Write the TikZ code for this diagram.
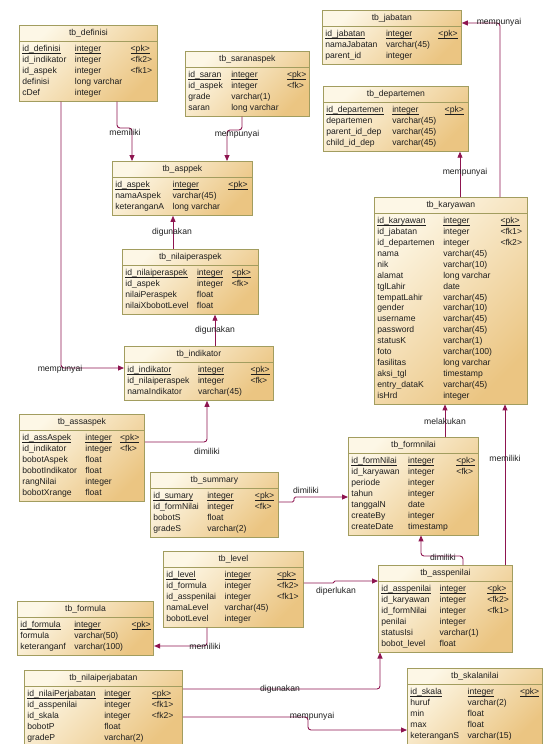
\documentclass[tikz,border=0pt]{standalone}
\usepackage{fontspec}
\setmainfont{Liberation Sans}
\usepackage{xcolor}
\usepackage{tikz}
\usetikzlibrary{arrows.meta,shapes.multipart}

\definecolor{tbLight}{HTML}{FDF7E6}
\definecolor{tbDark}{HTML}{EBC582}
\definecolor{tbBorder}{HTML}{A29D5F}
\definecolor{relLine}{HTML}{8E1550}
\definecolor{tbText}{HTML}{1E1E1E}

\newcommand{\tbfont}{\fontsize{8.6}{10.9}\selectfont}
\newcommand{\pkul}[1]{\leavevmode\setbox0\hbox{#1}\rlap{\rule[-1.4pt]{\wd0}{0.5pt}}\box0}
\newcommand{\pkrow}[3]{\pkul{#1} & \pkul{#2} & \pkul{#3}\\}
\newenvironment{tbrows}{\begin{tabular}{@{}l@{\hspace{8.5pt}}l@{\hspace{8.5pt}}l@{}}}{\end{tabular}}

\begin{document}
\begin{tikzpicture}[x=1pt, y=-1pt,
  tbl/.style={rectangle split, rectangle split parts=2, rectangle split part align={center,left},
    draw=tbBorder, line width=0.8pt, top color=tbLight, bottom color=tbDark, shading angle=45,
    anchor=north west, inner xsep=3pt, inner ysep=2.2pt, font=\tbfont, text=tbText},
  rel/.style={draw=relLine, line width=0.9pt, rounded corners=3pt, -{Triangle[length=6pt,width=5pt]}},
  lbl/.style={font=\tbfont, text=tbText, inner sep=0pt}]

  \useasboundingbox (0,0) rectangle (544,744);

  % tables
  \node [tbl, minimum width=138pt] (def) at (19,25) {\strut tb\_definisi
    \nodepart{two}\begin{tbrows}
      \pkrow{id\_definisi}{integer}{<pk>}
      id\_indikator & integer & <fk2>\\
      id\_aspek & integer & <fk1>\\
      definisi & long varchar & \\
      cDef & integer &
    \end{tbrows}};
  \node [tbl, minimum width=120pt] (sar) at (185,51) {\strut tb\_saranaspek
    \nodepart{two}\begin{tbrows}
      \pkrow{id\_saran}{integer}{<pk>}
      id\_aspek & integer & <fk>\\
      grade & varchar(1) & \\
      saran & long varchar &
    \end{tbrows}};
  \node [tbl, minimum width=140pt] (asp) at (112,161) {\strut tb\_asppek
    \nodepart{two}\begin{tbrows}
      \pkrow{id\_aspek}{integer}{<pk>}
      namaAspek & varchar(45) & \\
      keteranganA & long varchar &
    \end{tbrows}};
  \node [tbl, minimum width=139pt] (jab) at (322,10) {\strut tb\_jabatan
    \nodepart{two}\begin{tbrows}
      \pkrow{id\_jabatan}{integer}{<pk>}
      namaJabatan & varchar(45) & \\
      parent\_id & integer &
    \end{tbrows}};
  \node [tbl, minimum width=145pt] (dep) at (323,86) {\strut tb\_departemen
    \nodepart{two}\begin{tbrows}
      \pkrow{id\_departemen}{integer}{<pk>}
      departemen & varchar(45) & \\
      parent\_id\_dep & varchar(45) & \\
      child\_id\_dep & varchar(45) &
    \end{tbrows}};
  \node [tbl, minimum width=153pt] (kar) at (374,197) {\strut tb\_karyawan
    \nodepart{two}\begin{tbrows}
      \pkrow{id\_karyawan}{integer}{<pk>}
      id\_jabatan & integer & <fk1>\\
      id\_departemen & integer & <fk2>\\
      nama & varchar(45) & \\
      nik & varchar(10) & \\
      alamat & long varchar & \\
      tglLahir & date & \\
      tempatLahir & varchar(45) & \\
      gender & varchar(10) & \\
      username & varchar(45) & \\
      password & varchar(45) & \\
      statusK & varchar(1) & \\
      foto & varchar(100) & \\
      fasilitas & long varchar & \\
      aksi\_tgl & timestamp & \\
      entry\_dataK & varchar(45) & \\
      isHrd & integer &
    \end{tbrows}};
  \node [tbl, minimum width=136pt] (nps) at (122,249) {\strut tb\_nilaiperaspek
    \nodepart{two}\begin{tbrows}
      \pkrow{id\_nilaiperaspek}{integer}{<pk>}
      id\_aspek & integer & <fk>\\
      nilaiPeraspek & float & \\
      nilaiXbobotLevel & float &
    \end{tbrows}};
  \node [tbl, minimum width=149pt] (ind) at (124,346) {\strut tb\_indikator
    \nodepart{two}\begin{tbrows}
      \pkrow{id\_indikator}{integer}{<pk>}
      id\_nilaiperaspek & integer & <fk>\\
      namaIndikator & varchar(45) &
    \end{tbrows}};
  \node [tbl, minimum width=125pt] (ass) at (19,414) {\strut tb\_assaspek
    \nodepart{two}\begin{tbrows}
      \pkrow{id\_assAspek}{integer}{<pk>}
      id\_indikator & integer & <fk>\\
      bobotAspek & float & \\
      bobotIndikator & float & \\
      rangNilai & integer & \\
      bobotXrange & float &
    \end{tbrows}};
  \node [tbl, minimum width=128pt] (sum) at (150,472) {\strut tb\_summary
    \nodepart{two}\begin{tbrows}
      \pkrow{id\_sumary}{integer}{<pk>}
      id\_formNilai & integer & <fk>\\
      bobotS & float & \\
      gradeS & varchar(2) &
    \end{tbrows}};
  \node [tbl, minimum width=130pt] (frm) at (348,437) {\strut tb\_formnilai
    \nodepart{two}\begin{tbrows}
      \pkrow{id\_formNilai}{integer}{<pk>}
      id\_karyawan & integer & <fk>\\
      periode & integer & \\
      tahun & integer & \\
      tanggalN & date & \\
      createBy & integer & \\
      createDate & timestamp &
    \end{tbrows}};
  \node [tbl, minimum width=140pt] (lvl) at (163,551) {\strut tb\_level
    \nodepart{two}\begin{tbrows}
      \pkrow{id\_level}{integer}{<pk>}
      id\_formula & integer & <fk2>\\
      id\_asspenilai & integer & <fk1>\\
      namaLevel & varchar(45) & \\
      bobotLevel & integer &
    \end{tbrows}};
  \node [tbl, minimum width=135pt] (frml) at (17,601) {\strut tb\_formula
    \nodepart{two}\begin{tbrows}
      \pkrow{id\_formula}{integer}{<pk>}
      formula & varchar(50) & \\
      keteranganf & varchar(100) &
    \end{tbrows}};
  \node [tbl, minimum width=134pt] (asn) at (378,565) {\strut tb\_asspenilai
    \nodepart{two}\begin{tbrows}
      \pkrow{id\_asspenilai}{integer}{<pk>}
      id\_karyawan & integer & <fk2>\\
      id\_formNilai & integer & <fk1>\\
      penilai & integer & \\
      statusIsi & varchar(1) & \\
      bobot\_level & float &
    \end{tbrows}};
  \node [tbl, minimum width=158pt] (npj) at (24,670) {\strut tb\_nilaiperjabatan
    \nodepart{two}\begin{tbrows}
      \pkrow{id\_nilaiPerjabatan}{integer}{<pk>}
      id\_asspenilai & integer & <fk1>\\
      id\_skala & integer & <fk2>\\
      bobotP & float & \\
      gradeP & varchar(2) &
    \end{tbrows}};
  \node [tbl, minimum width=134pt] (skl) at (407,668) {\strut tb\_skalanilai
    \nodepart{two}\begin{tbrows}
      \pkrow{id\_skala}{integer}{<pk>}
      huruf & varchar(2) & \\
      min & float & \\
      max & float & \\
      keteranganS & varchar(15) &
    \end{tbrows}};

  % relations
  \draw [rel] (def.south -| 117,0) -- (117,128) -- (132,128) -- (asp.north -| 132,0);
  \draw [rel] (sar.south -| 242,0) -- (242,130) -- (227,130) -- (asp.north -| 227,0);
  \draw [rel] (def.south -| 61,0) -- (61,368) -- (ind.west |- 0,368);
  \draw [rel] (nps.north -| 173,0) -- (asp.south -| 173,0);
  \draw [rel] (ind.north -| 215,0) -- (nps.south -| 215,0);
  \draw [rel] (ass.east |- 0,442) -- (207,442) -- (ind.south -| 207,0);
  \draw [rel, rounded corners=1.5pt] (sum.east |- 0,502) -- (294,502) -- (294,497) -- (frm.west |- 0,497);
  \draw [rel] (kar.north -| 500,0) -- (500,23) -- (jab.east |- 0,23);
  \draw [rel] (kar.north -| 460,0) -- (dep.south -| 460,0);
  \draw [rel] (frm.north -| 445,0) -- (kar.south -| 445,0);
  \draw [rel] (asn.north -| 505,0) -- (kar.south -| 505,0);
  \draw [rel] (asn.north -| 463,0) -- (463,556) -- (421,556) -- (frm.south -| 421,0);
  \draw [rel, rounded corners=1pt] (lvl.east |- 0,583) -- (334,583) -- (334,581) -- (asn.west |- 0,581);
  \draw [rel] (lvl.south -| 207,0) -- (207,646) -- (frml.east |- 0,646);
  \draw [rel] (npj.east |- 0,689) -- (380,689) -- (asn.south -| 380,0);
  \draw [rel] (npj.east |- 0,717) -- (308,717) -- (308,730) -- (skl.west |- 0,730);

  % relation names
  \node [lbl] (l1) at (125,132) {memiliki};
  \node [lbl] (l2) at (237,134) {mempunyai};
  \node [lbl] (l3) at (60,369) {mempunyai};
  \node [lbl] (l4) at (172,232) {digunakan};
  \node [lbl] (l5) at (215,330) {digunakan};
  \node [lbl] (l6) at (207,451) {dimiliki};
  \node [lbl] (l7) at (306,490) {dimiliki};
  \node [lbl] (l8) at (499,22) {mempunyai};
  \node [lbl] (l9) at (465,172) {mempunyai};
  \node [lbl] (l10) at (445,421) {melakukan};
  \node [lbl] (l11) at (505,458) {memiliki};
  \node [lbl] (l12) at (443,557) {dimiliki};
  \node [lbl] (l13) at (336,591) {diperlukan};
  \node [lbl] (l14) at (205,646) {memiliki};
  \node [lbl] (l15) at (280,689) {digunakan};
  \node [lbl] (l16) at (312,716) {mempunyai};
\end{tikzpicture}
\end{document}
